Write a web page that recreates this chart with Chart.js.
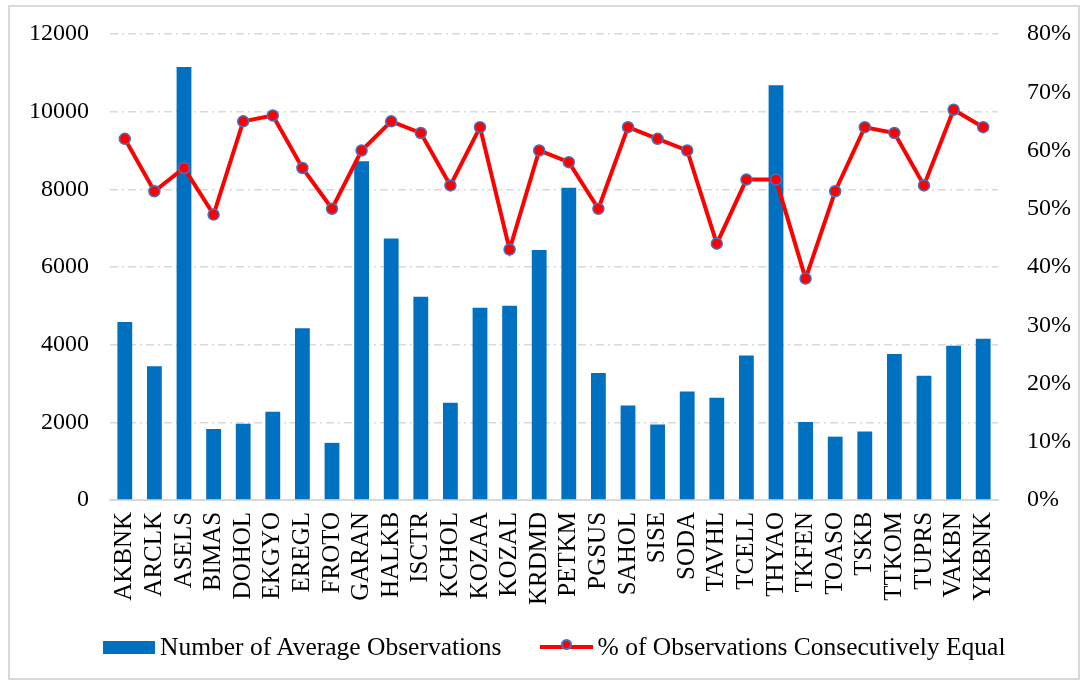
<!DOCTYPE html>
<html>
<head>
<meta charset="utf-8">
<script src="https://cdn.jsdelivr.net/npm/chart.js@4.4.1/dist/chart.umd.min.js"></script>
<style>
  body { margin: 0; background: #fff; }
  #wrap { position: relative; width: 1085px; height: 684px; }
  #frame { position: absolute; left: 8px; top: 5px; width: 1072px; height: 675px; border: 2px solid #d9d9d9; box-sizing: border-box; }
  #legend { position: absolute; top: 632px; left: 103px; display: flex; align-items: center;
            font-family: 'Liberation Serif', 'Times New Roman', serif; font-size: 25.5px; color: #000; }
  .box { width: 52px; height: 13px; background: #0070C0; margin-right: 5px; }
  .ln { position: relative; width: 53px; height: 4px; background: #ff0000; margin-left: 38px; margin-right: 5px; }
  .ln span { position: absolute; left: 21px; top: -5px; width: 11px; height: 11px; border-radius: 50%;
             background: #ff0000; border: 2px solid #4472C4; box-sizing: border-box; margin-top: -1px; }
</style>
</head>
<body>
<div id="wrap">
  <div id="frame"></div>
  <canvas id="chart" width="1085" height="684"></canvas>
  <div id="legend">
    <div class="box"></div><div>Number of Average Observations</div>
    <div class="ln"><span></span></div><div>% of Observations Consecutively Equal</div>
  </div>
</div>
<script>
const stocks = ['AKBNK','ARCLK','ASELS','BIMAS','DOHOL','EKGYO','EREGL','FROTO','GARAN','HALKB',
  'ISCTR','KCHOL','KOZAA','KOZAL','KRDMD','PETKM','PGSUS','SAHOL','SISE','SODA',
  'TAVHL','TCELL','THYAO','TKFEN','TOASO','TSKB','TTKOM','TUPRS','VAKBN','YKBNK'];
const avgObservations = [4580, 3440, 11150, 1830, 1960, 2270, 4420, 1470, 8720, 6730,
  5230, 2500, 4950, 5000, 6440, 8040, 3270, 2430, 1940, 2790,
  2630, 3720, 10680, 2010, 1630, 1760, 3760, 3200, 3970, 4150];
const pctEqual = [0.62, 0.53, 0.57, 0.49, 0.65, 0.66, 0.57, 0.50, 0.60, 0.65,
  0.63, 0.54, 0.64, 0.43, 0.60, 0.58, 0.50, 0.64, 0.62, 0.60,
  0.44, 0.55, 0.55, 0.38, 0.53, 0.64, 0.63, 0.54, 0.67, 0.64];

const family = "'Liberation Serif', 'Times New Roman', serif";
const gridColor = '#d9d9d9';

const ctx = document.getElementById('chart').getContext('2d');
new Chart(ctx, {
  data: {
    labels: stocks,
    datasets: [
      {
        type: 'line',
        label: '% of Observations Consecutively Equal',
        data: pctEqual,
        yAxisID: 'y1',
        borderColor: '#ff0000',
        borderWidth: 4,
        pointRadius: 5.5,
        pointBackgroundColor: '#ff0000',
        pointBorderColor: '#4472C4',
        pointBorderWidth: 1.5,
        tension: 0,
        order: 0
      },
      {
        type: 'bar',
        label: 'Number of Average Observations',
        data: avgObservations,
        yAxisID: 'y',
        backgroundColor: '#0070C0',
        barPercentage: 0.5,
        categoryPercentage: 1,
        order: 1
      }
    ]
  },
  options: {
    responsive: false,
    animation: false,
    layout: { padding: { top: 34, left: 0, right: 0, bottom: 75 } },
    plugins: { legend: { display: false }, tooltip: { enabled: false } },
    scales: {
      x: {
        grid: { display: false },
        border: { color: gridColor, width: 2 },
        afterFit: s => { s.paddingLeft = 0; s.paddingRight = 0; },
        ticks: { color: '#000', font: { family, size: 25 }, minRotation: 90, maxRotation: 90, autoSkip: false, padding: 4 }
      },
      y: {
        position: 'left',
        min: 0, max: 12000,
        afterFit: s => { s.width = 110; s.paddingTop = 0; s.paddingBottom = 0; },
        ticks: { stepSize: 2000, color: '#000', font: { family, size: 24 }, padding: 21,
          callback: v => String(v) },
        border: { display: false, dash: [8, 4, 2, 4] },
        grid: { color: gridColor, lineWidth: 1.5, drawTicks: false }
      },
      y1: {
        position: 'right',
        min: 0, max: 0.8,
        afterFit: s => { s.width = 87; s.paddingTop = 0; s.paddingBottom = 0; },
        ticks: { stepSize: 0.1, color: '#000', font: { family, size: 24 }, padding: 29,
          callback: v => Math.round(v * 100) + '%' },
        border: { display: false },
        grid: { drawOnChartArea: false, drawTicks: false }
      }
    }
  }
});
</script>
</body>
</html>
